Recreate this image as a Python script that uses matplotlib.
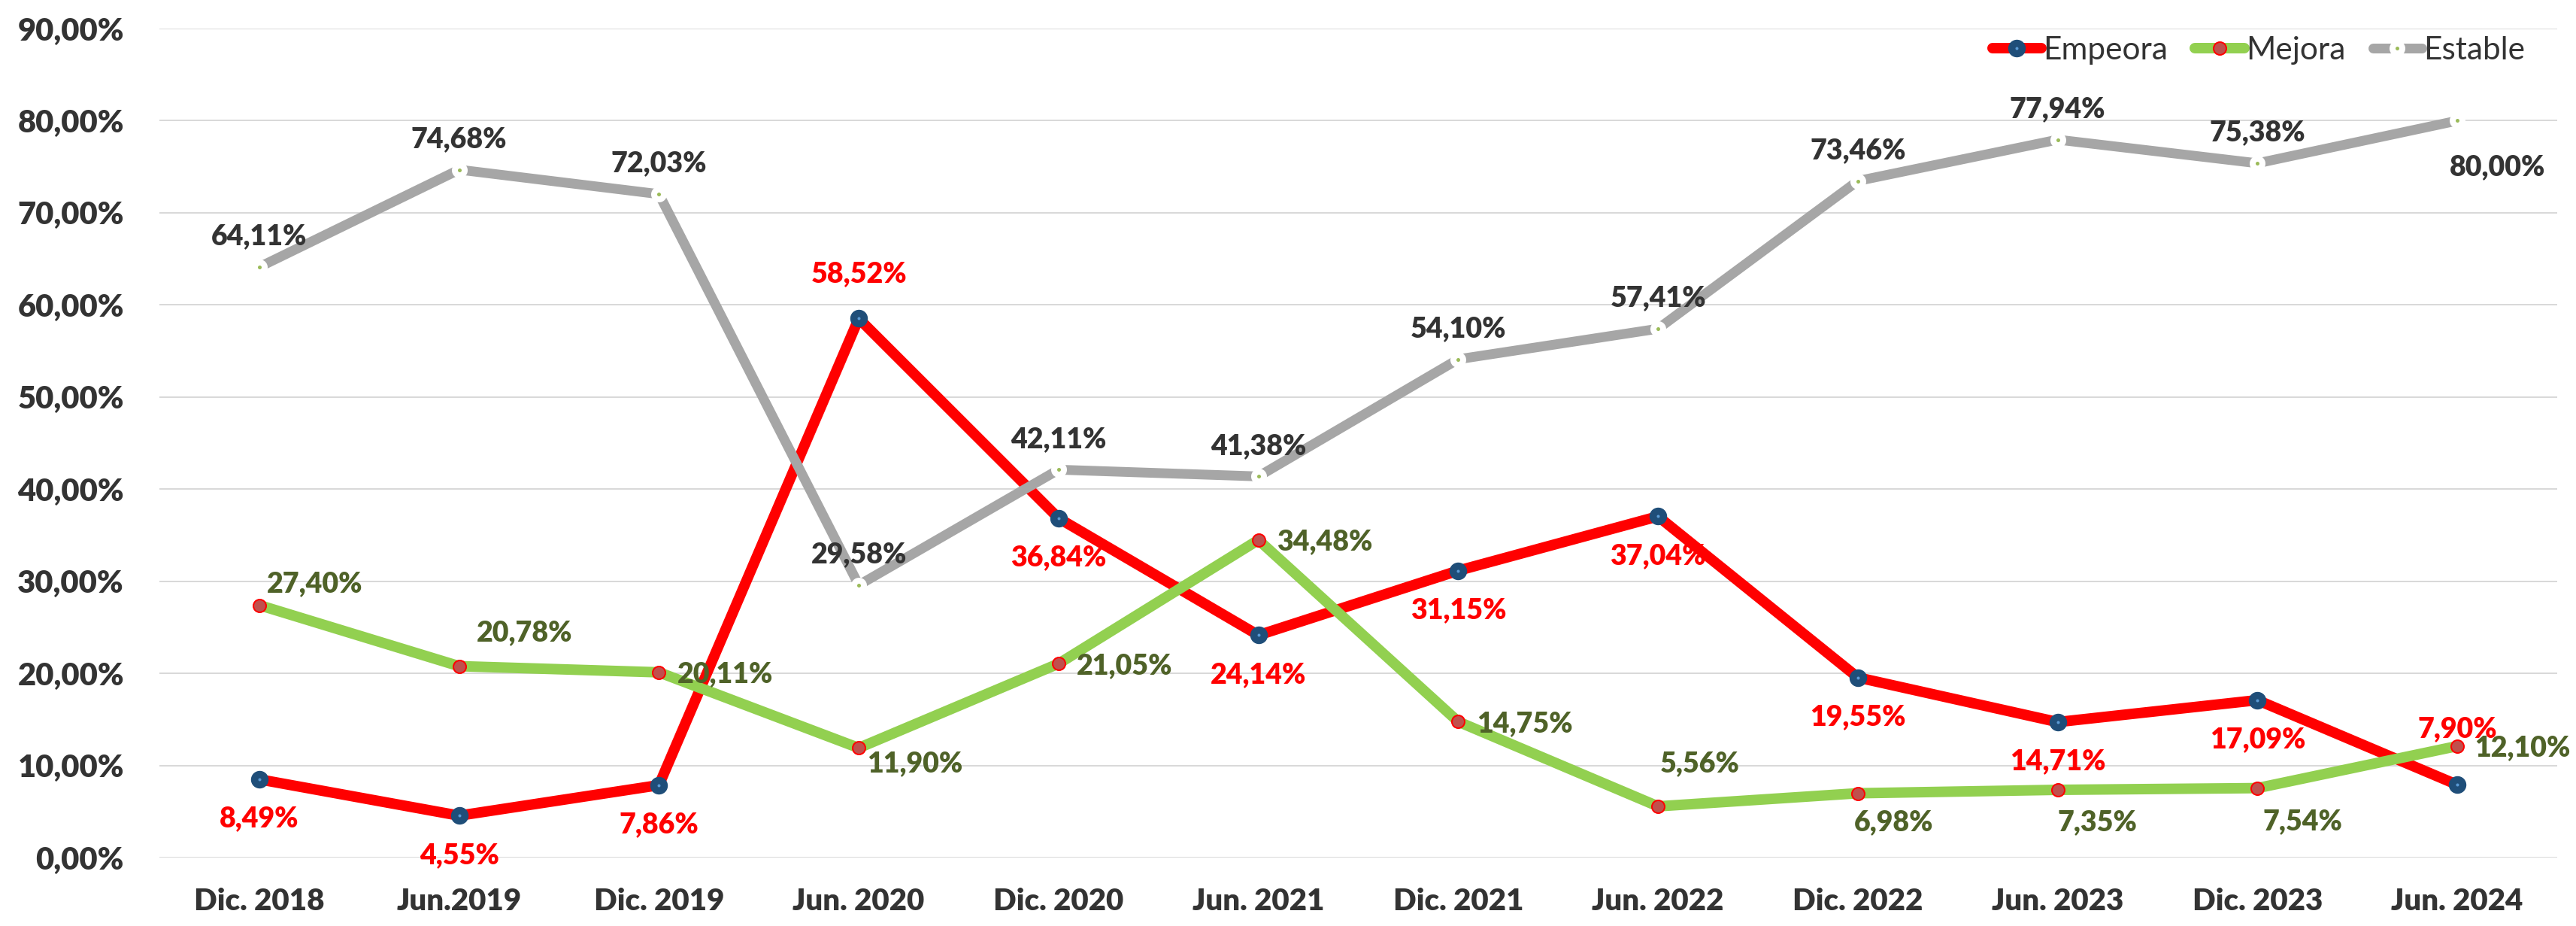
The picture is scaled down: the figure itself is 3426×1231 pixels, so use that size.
import matplotlib
matplotlib.use("Agg")
import matplotlib.pyplot as plt
from matplotlib.legend_handler import HandlerTuple
from matplotlib.ticker import FuncFormatter

# ---------------- data ----------------
categories = ["Dic. 2018", "Jun.2019", "Dic. 2019", "Jun. 2020", "Dic. 2020", "Jun. 2021",
              "Dic. 2021", "Jun. 2022", "Dic. 2022", "Jun. 2023", "Dic. 2023", "Jun. 2024"]
empeora = [8.49, 4.55, 7.86, 58.52, 36.84, 24.14, 31.15, 37.04, 19.55, 14.71, 17.09, 7.90]
mejora = [27.40, 20.78, 20.11, 11.90, 21.05, 34.48, 14.75, 5.56, 6.98, 7.35, 7.54, 12.10]
estable = [64.11, 74.68, 72.03, 29.58, 42.11, 41.38, 54.10, 57.41, 73.46, 77.94, 75.38, 80.00]
series_names = ["Empeora", "Mejora", "Estable"]
y_ticks = [0, 10, 20, 30, 40, 50, 60, 70, 80, 90]

# ---------------- label placement (pixels: dx right, dy down; ha) ----------------
emp_pos = [(0, 50, "center")] * 3 + [(0, -62, "center")] + [(0, 50, "center")] * 7 + [(0, -77, "center")]
mej_pos = [(10, -31, "left"), (23, -47, "left"), (25, 0, "left"), (11, 18, "left"),
           (24, 0, "left"), (24, 0, "left"), (25, 0, "left"), (3, -59, "left"),
           (-5, 36, "left"), (0, 41, "left"), (7, 42, "left"), (23, 0, "left")]
est_pos = [(0, -43, "center")] * 11 + [(-10, 59, "left")]

FONT = ["Lato", "DejaVu Sans"]
plt.rcParams["font.family"] = FONT

W, H, DPI = 3426, 1231, 100
fig = plt.figure(figsize=(W / DPI, H / DPI), dpi=DPI)
ax = fig.add_axes([212 / W, 1 - 1140 / H, 3189 / W, 1102 / H])

x = list(range(len(categories)))
PX = 72 / DPI  # points per pixel

RED = "#FF0000"
GREEN = "#92D050"
GRAY = "#A6A6A6"
TXT = "#333333"

l_emp, = ax.plot(x, empeora, color=RED, lw=14 * PX, solid_joinstyle="round", solid_capstyle="round",
                 marker="o", ms=22 * PX, mfc="#1F4E79", mec="#1F4E79", mew=1, zorder=3)
d_emp, = ax.plot(x, empeora, ls="none", marker="o", ms=4 * PX, mfc="#5B9BD5", mec="none", zorder=3.1)
l_mej, = ax.plot(x, mejora, color=GREEN, lw=14 * PX, solid_joinstyle="round", solid_capstyle="round",
                 marker="o", ms=17 * PX, mfc="#C0504D", mec=RED, mew=2 * PX, zorder=4)
l_est, = ax.plot(x, estable, color=GRAY, lw=13 * PX, solid_joinstyle="round", solid_capstyle="round",
                 marker="o", ms=21 * PX, mfc="white", mec="white", mew=0, zorder=5)
d_est, = ax.plot(x, estable, ls="none", marker="o", ms=5 * PX, mfc="#9BBB59", mec="none", zorder=5.1)

LABEL_FS = 27
CAP = LABEL_FS / PX * 0.7165  # cap height in px


def fmt(v):
    return f"{v:.2f}".replace(".", ",") + "%"


def put_labels(vals, pos, color):
    for xi, v, (dx, dy, ha) in zip(x, vals, pos):
        ax.annotate(fmt(v), (xi, v), xytext=(dx * PX, -(dy + CAP / 2) * PX),
                    textcoords="offset points", ha=ha, va="baseline",
                    fontsize=LABEL_FS, fontweight="heavy", color=color, zorder=10)


put_labels(empeora, emp_pos, RED)
put_labels(mejora, mej_pos, "#4F6228")
put_labels(estable, est_pos, TXT)

ax.set_xlim(-0.5, len(categories) - 0.5)
ax.set_ylim(0, 90)
ax.set_yticks(y_ticks)
ax.yaxis.set_major_formatter(FuncFormatter(lambda v, p: fmt(v)))
ax.set_xticks(x)
ax.set_xticklabels(categories)
ax.tick_params(axis="both", length=0, colors=TXT)
ax.tick_params(axis="y", pad=47 * PX, labelsize=30)
ax.tick_params(axis="x", pad=40 * PX, labelsize=29)
for lab in ax.get_xticklabels() + ax.get_yticklabels():
    lab.set_fontweight("heavy")
    lab.set_color(TXT)

ax.grid(axis="y", color="#D9D9D9", lw=2 * PX)
ax.set_axisbelow(True)
for s in ax.spines.values():
    s.set_visible(False)

leg = ax.legend([(l_emp, d_emp), (l_mej,), (l_est, d_est)], series_names,
                handler_map={tuple: HandlerTuple(ndivide=1)},
                loc="center", bbox_to_anchor=((3004 - 212) / 3189, (1140 - 67) / 1102),
                ncol=3, frameon=False, fontsize=30.5, handlelength=1.55, handletextpad=0.05,
                columnspacing=0.85, borderpad=0, borderaxespad=0)
for t in leg.get_texts():
    t.set_color(TXT)

fig.savefig("out.png", dpi=DPI, facecolor="white")
